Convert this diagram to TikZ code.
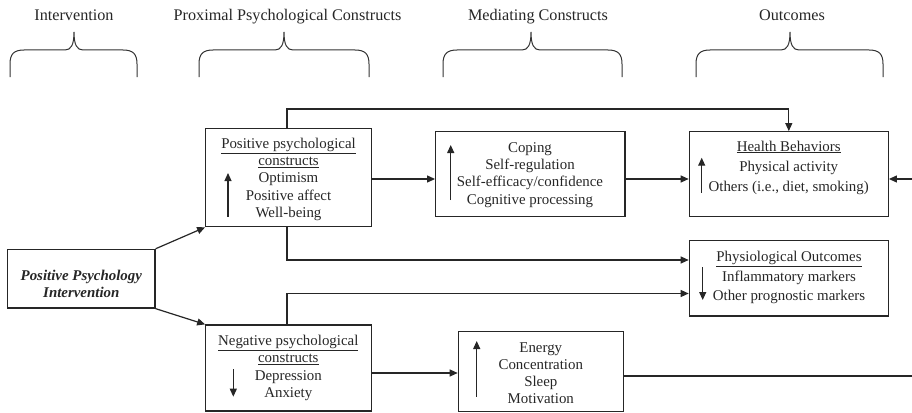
\documentclass[tikz,border=0pt]{standalone}
\usepackage{fontspec}
\setmainfont{Liberation Serif}
\usetikzlibrary{arrows.meta}
\tikzset{
  box/.style={draw=black!85, line width=1.2pt, inner sep=0pt, rectangle},
  txt/.style={align=center, inner sep=0pt, text=black!85},
  conn/.style={draw=black!85, line width=1.2pt},
  arr/.style={conn, -{Triangle[length=8pt,width=7pt]}},
  bracestyle/.style={draw=black!80, line width=1pt},
  hdr/.style={anchor=base, inner sep=0pt, text=black!85, font=\fontsize{16.2}{19}\selectfont}
}
\begin{document}
\begin{tikzpicture}[x=1pt,y=-1pt]
\useasboundingbox (0,0) rectangle (912,412);
% headers
\node[hdr] (h1) at (74,20.5) {Intervention};
\node[hdr] (h2) at (287.5,20.5) {Proximal Psychological Constructs};
\node[hdr] (h3) at (538,20.5) {Mediating Constructs};
\node[hdr] (h4) at (792,20.5) {Outcomes};
% braces
\foreach \L/\R/\T in {10/137/74, 199/369/284, 443/622/531, 696/883/790}{
  \draw[bracestyle] (\L,77) -- (\L,64) .. controls (\L,54) and (\L+4,50) .. (\L+14,50)
    -- (\T-9,50) .. controls (\T-3,50) and (\T,45) .. (\T,32)
    .. controls (\T,45) and (\T+3,50) .. (\T+9,50)
    -- (\R-14,50) .. controls (\R-4,50) and (\R,54) .. (\R,64) -- (\R,77);
}
% boxes
\node[box, minimum width=147.7pt, minimum height=58.7pt] (int) at (81.2,278.7) {};
\node[box, minimum width=166pt, minimum height=98.4pt] (pos) at (288.7,177.5) {};
\node[box, minimum width=166pt, minimum height=86pt] (neg) at (288.7,368) {};
\node[box, minimum width=189.3pt, minimum height=85pt] (cop) at (530.3,174.2) {};
\node[box, minimum width=199pt, minimum height=85pt] (hb) at (788.8,174.2) {};
\node[box, minimum width=199pt, minimum height=75.3pt] (ph) at (788.8,278.3) {};
\node[box, minimum width=165pt, minimum height=79.5pt] (en) at (540.8,371.5) {};
% texts
\node[txt, font=\fontsize{14.9}{16.7}\selectfont\bfseries\itshape] (intT) at (81.3,283.8) {Positive Psychology\\Intervention};
\node[txt, font=\fontsize{14.9}{17.3}\selectfont] (posT) at (288.5,179.2) {\underline{Positive psychological}\\\underline{constructs}\\Optimism\\Positive affect\\Well-being};
\node[txt, font=\fontsize{14.9}{17.3}\selectfont] (copT) at (530,175) {Coping\\Self-regulation\\Self-efficacy/confidence\\Cognitive processing};
\node[txt, font=\fontsize{14.9}{20}\selectfont] (hbT) at (788.7,167.5) {\underline{Health Behaviors}\\Physical activity\\Others (i.e., diet, smoking)};
\node[txt, font=\fontsize{14.9}{19.5}\selectfont] (phT) at (789,277.5) {\underline{Physiological Outcomes}\\Inflammatory markers\\Other prognostic markers};
\node[txt, font=\fontsize{14.9}{17.5}\selectfont] (negT) at (288.3,368) {\underline{Negative psychological}\\\underline{constructs}\\Depression\\Anxiety};
\node[txt, font=\fontsize{14.9}{17.2}\selectfont] (enT) at (540.8,373) {Energy\\Concentration\\Sleep\\Motivation};
% inner direction arrows
\draw[arr] (228,216.7) -- (228,173);
\draw[arr] (450.7,200) -- (450.7,145);
\draw[arr] (701.7,192.7) -- (701.7,157.7);
\draw[arr] (702.7,267.3) -- (702.7,300);
\draw[arr] (233.3,369.3) -- (233.3,396.7);
\draw[arr] (476.7,396.7) -- (476.7,341);
% connectors
\coordinate (r1) at (0,179);
\coordinate (inR) at (912,179);
\coordinate (c1) at (287,109);
\coordinate (c2) at (287,260);
\coordinate (c3) at (287,293.5);
\coordinate (r2) at (0,373);
\coordinate (outR) at (912,376);
\draw[arr] (int.north east) -- (pos.south west);
\draw[arr] (int.south east) -- (neg.north west);
\draw[arr] (pos.east |- r1) -- (cop.west |- r1);
\draw[arr] (cop.east |- r1) -- (hb.west |- r1);
\draw[arr] (inR) -- (hb.east |- inR);
\draw[arr] (pos.north -| c1) -- (c1) -| (hb.north);
\draw[arr] (pos.south -| c2) -- (c2) -- (c2 -| ph.west);
\draw[arr] (neg.north -| c3) -- (c3) -- (c3 -| ph.west);
\draw[arr] (neg.east |- r2) -- (en.west |- r2);
\draw[conn] (en.east |- outR) -- (outR);
\end{tikzpicture}
\end{document}
